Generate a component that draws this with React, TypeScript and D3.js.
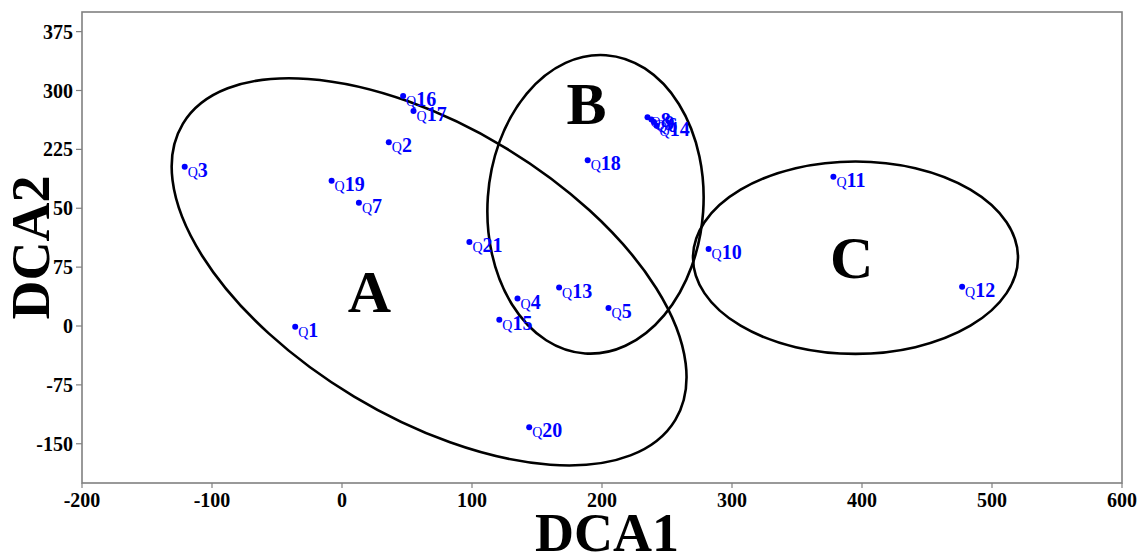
import React from 'react';
import * as d3 from 'd3';

// sample scores on the first two DCA axes
const sampleNames = ['Q1', 'Q2', 'Q3', 'Q4', 'Q5', 'Q6', 'Q7', 'Q8', 'Q9', 'Q10', 'Q11', 'Q12', 'Q13', 'Q14', 'Q15', 'Q16', 'Q17', 'Q18', 'Q19', 'Q20', 'Q21'];
const dca1 = [-36, 36, -121, 135, 205, 240, 13, 235, 238, 282, 378, 477, 167, 242, 121, 47, 55, 189, -8, 144, 98];
const dca2 = [-1, 234, 203, 35, 23, 260, 157, 266, 263, 98, 190, 50, 49, 255, 8, 293, 274, 211, 185, -129, 107];

const xTicks = [-200, -100, 0, 100, 200, 300, 400, 500, 600];
const yTicks = [-150, -75, 0, 75, 150, 225, 300, 375];
const yTickLabels = ['-150', '-75', '0', '75', '50', '225', '300', '375'];

// groups: centre (data units), radii (DCA1 units), tilt in degrees
const groupNames = ['A', 'B', 'C'];
const groupCx = [67, 195, 395];
const groupCy = [69, 155, 87];
const groupRx = [221, 83, 125];
const groupRy = [112, 115, 74];
const groupTilt = [31, 4, 0];
const letterX = [21, 188, 392];
const letterY = [18, 257, 61];

const W = 1143;
const H = 556;
const margin = { top: 12, right: 21, bottom: 73, left: 82 };
const serif = "'Liberation Serif', 'Times New Roman', serif";

export default function App() {
  const x = d3.scaleLinear().domain([-200, 600]).range([margin.left, W - margin.right]);
  const y = d3.scaleLinear().domain([-200, 400]).range([H - margin.bottom, margin.top]);
  const x0 = x(-200);
  const x1 = x(600);
  const y0 = y(-200);
  const y1 = y(400);
  const unit = x(1) - x(0);

  return (
    <svg width={W} height={H} style={{ position: 'absolute', left: 0, top: 0, background: '#fff' }} fontFamily={serif}>
      {/* frame */}
      <rect x={x0} y={y1} width={x1 - x0} height={y0 - y1} fill="none" stroke="#808080" strokeWidth={1.6} />

      {/* y axis */}
      {yTicks.map((t, i) => (
        <g key={'y' + t}>
          <line x1={x0 - 6} x2={x0} y1={y(t)} y2={y(t)} stroke="#808080" strokeWidth={1.2} />
          <text x={x0 - 9} y={y(t)} dy="0.35em" textAnchor="end" fontSize={20} fontWeight="bold">
            {yTickLabels[i]}
          </text>
        </g>
      ))}

      {/* x axis */}
      {xTicks.map(t => (
        <g key={'x' + t}>
          <line x1={x(t)} x2={x(t)} y1={y0} y2={y0 + 5} stroke="#808080" strokeWidth={1.2} />
          <text x={x(t)} y={y0 + 24} textAnchor="middle" fontSize={20} fontWeight="bold">
            {t}
          </text>
        </g>
      ))}

      <text x={(x0 + x1) / 2 + 5} y={551} textAnchor="middle" fontSize={54} fontWeight="bold">
        DCA1
      </text>
      <text
        transform={`translate(49, ${y(100)}) rotate(-90)`}
        textAnchor="middle"
        fontSize={54}
        fontWeight="bold"
      >
        DCA2
      </text>

      {/* group ellipses */}
      {groupNames.map((g, i) => {
        const cx = x(groupCx[i]);
        const cy = y(groupCy[i]);
        return (
          <g key={g}>
            <ellipse
              cx={cx}
              cy={cy}
              rx={groupRx[i] * unit}
              ry={groupRy[i] * unit}
              transform={`rotate(${groupTilt[i]}, ${cx}, ${cy})`}
              fill="none"
              stroke="#000"
              strokeWidth={2.6}
            />
            <text x={x(letterX[i])} y={y(letterY[i])} textAnchor="middle" fontSize={60} fontWeight="bold">
              {g}
            </text>
          </g>
        );
      })}

      {/* samples */}
      {sampleNames.map((n, i) => (
        <g key={n} fill="#0000ff">
          <circle cx={x(dca1[i])} cy={y(dca2[i])} r={3} />
          <text x={x(dca1[i]) + 3} y={y(dca2[i]) + 10}>
            <tspan fontSize={14}>Q</tspan>
            <tspan fontSize={20} fontWeight="bold">{n.slice(1)}</tspan>
          </text>
        </g>
      ))}
    </svg>
  );
}
